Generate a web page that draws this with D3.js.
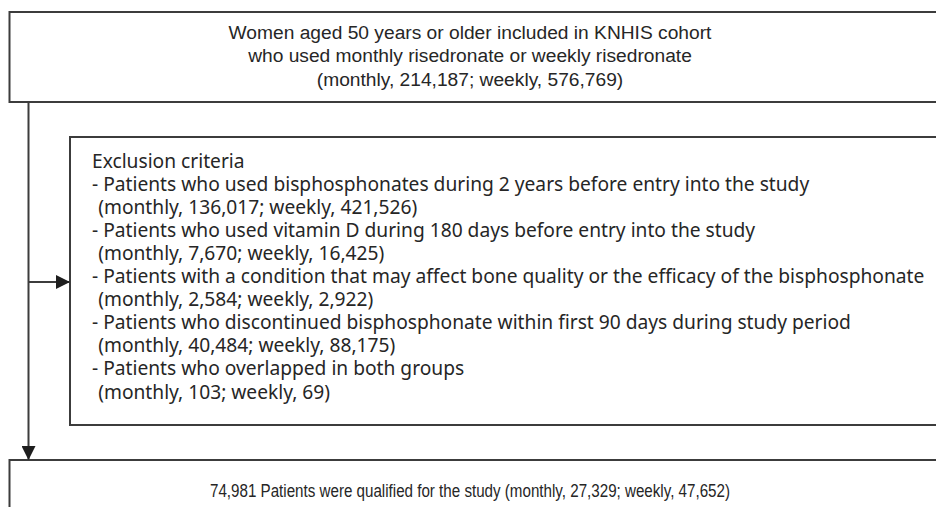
<!DOCTYPE html>
<html>
<head>
<meta charset="utf-8">
<script src="https://cdn.jsdelivr.net/npm/d3@7"></script>
<style>
  html, body { margin: 0; padding: 0; background: #fff; }
  svg { display: block; }
  text { fill: #262626; }
  .helv { font-family: "Liberation Sans", Arial, Helvetica, sans-serif; }
  .wide { font-family: "Noto Sans", "Open Sans", sans-serif; }
</style>
</head>
<body>
<svg id="chart" width="936" height="507"></svg>
<script>
const topLines = [
  "Women aged 50 years or older included in KNHIS cohort",
  "who used monthly risedronate or weekly risedronate",
  "(monthly, 214,187; weekly, 576,769)"
];
const exclusionTitle = "Exclusion criteria";
const exclusionItems = [
  "- Patients who used bisphosphonates during 2 years before entry into the study",
  "- Patients who used vitamin D during 180 days before entry into the study",
  "- Patients with a condition that may affect bone quality or the efficacy of the bisphosphonate",
  "- Patients who discontinued bisphosphonate within first 90 days during study period",
  "- Patients who overlapped in both groups"
];
const exclusionCounts = [
  "(monthly, 136,017; weekly, 421,526)",
  "(monthly, 7,670; weekly, 16,425)",
  "(monthly, 2,584; weekly, 2,922)",
  "(monthly, 40,484; weekly, 88,175)",
  "(monthly, 103; weekly, 69)"
];
const bottomLines = [
  "74,981 Patients were qualified for the study (monthly, 27,329; weekly, 47,652)"
];

const svg = d3.select("#chart");
const stroke = "#3c3c3c";

const defs = svg.append("defs");
defs.append("marker").attr("id", "arrow")
  .attr("viewBox", "0 0 14 14").attr("refX", 14).attr("refY", 7)
  .attr("markerWidth", 14).attr("markerHeight", 14)
  .attr("markerUnits", "userSpaceOnUse").attr("orient", "auto")
  .append("path").attr("d", "M0,0 L14,7 L0,14 Z").attr("fill", "#1e1e1e");

// boxes (right edges run past the frame)
const boxes = [
  {x: 9.5, y: 12, w: 960, h: 90},
  {x: 70, y: 137, w: 900, h: 288},
  {x: 9.5, y: 460, w: 960, h: 100}
];
svg.selectAll("rect.box").data(boxes).join("rect")
  .attr("class", "box")
  .attr("x", d => d.x).attr("y", d => d.y)
  .attr("width", d => d.w).attr("height", d => d.h)
  .attr("fill", "none").attr("stroke", stroke).attr("stroke-width", 2);

// connectors
svg.append("line").attr("x1", 28.5).attr("y1", 102).attr("x2", 28.5).attr("y2", 460)
  .attr("stroke", stroke).attr("stroke-width", 2).attr("marker-end", "url(#arrow)");
svg.append("line").attr("x1", 28.5).attr("y1", 282).attr("x2", 70).attr("y2", 282)
  .attr("stroke", stroke).attr("stroke-width", 2).attr("marker-end", "url(#arrow)");

// top text
svg.append("g").selectAll("text").data(topLines).join("text")
  .attr("class", "helv")
  .attr("x", 470).attr("y", (d, i) => 38.5 + i * 23.5)
  .attr("text-anchor", "middle").attr("font-size", 19.2)
  .text(d => d);

// exclusion text: interleave item / count rows
const exRows = [{t: exclusionTitle, indent: false}];
exclusionItems.forEach((d, i) => {
  exRows.push({t: d, indent: false});
  exRows.push({t: exclusionCounts[i], indent: true});
});
const exG = svg.append("g");
const exText = exG.selectAll("text").data(exRows).join("text")
  .attr("class", "wide")
  .attr("y", (d, i) => 167.5 + i * 23.1)
  .attr("font-size", 18)
  .text(d => d.t);
// fit the longest row to the reference width
const targetWidth = 833;
let maxW = 0;
exText.each(function() { maxW = Math.max(maxW, this.getComputedTextLength()); });
const fs = 18 * targetWidth / maxW;
exText.attr("font-size", fs);
const probe = exG.append("text").attr("class", "wide").attr("font-size", fs).text("- ");
const dashW = probe.node().getComputedTextLength();
probe.remove();
exText.attr("x", d => d.indent ? 92 + dashW : 92);

// bottom text
svg.append("g").selectAll("text").data(bottomLines).join("text")
  .attr("class", "helv")
  .attr("x", 470).attr("y", 497)
  .attr("text-anchor", "middle").attr("font-size", 17.5)
  .attr("textLength", 520).attr("lengthAdjust", "spacingAndGlyphs")
  .text(d => d);
</script>
</body>
</html>
